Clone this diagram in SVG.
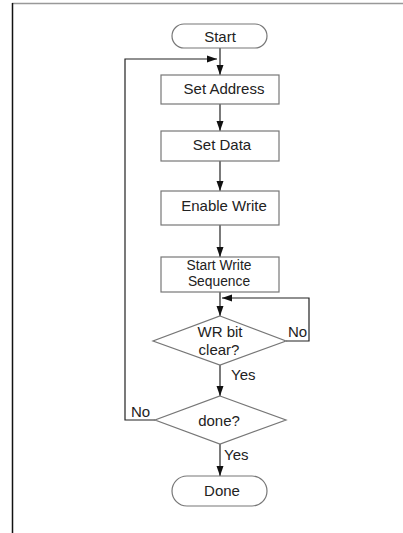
<svg xmlns="http://www.w3.org/2000/svg" width="403" height="533" viewBox="0 0 403 533">
<defs>
<marker id="ah" viewBox="0 0 10 10" refX="10" refY="5" markerWidth="10" markerHeight="10" markerUnits="userSpaceOnUse" orient="auto">
<path d="M0,1.5 L10,5 L0,8.5 Z" fill="#111"/>
</marker>
<style>
.shape{fill:#fff;stroke:#777;stroke-width:1.2}
.conn{fill:none;stroke:#222;stroke-width:1.2}
text{font-family:"Liberation Sans",Arial,sans-serif;font-size:15px;fill:#222}
.c{text-anchor:middle}
.s{font-size:13.8px}
</style>
</defs>
<rect width="403" height="533" fill="#fff"/>
<line x1="12" y1="3.5" x2="403" y2="3.5" stroke="#999" stroke-width="1.5"/>
<line x1="12.5" y1="3" x2="12.5" y2="533" stroke="#111" stroke-width="1.5"/>
<g id="connectors">
<line class="conn" x1="220" y1="48" x2="220" y2="75" marker-end="url(#ah)"/>
<polyline class="conn" points="155,420 125,420 125,59 217,59" marker-end="url(#ah)"/>
<line class="conn" x1="220" y1="104" x2="220" y2="131" marker-end="url(#ah)"/>
<line class="conn" x1="220" y1="161" x2="220" y2="191" marker-end="url(#ah)"/>
<line class="conn" x1="220" y1="225" x2="220" y2="257" marker-end="url(#ah)"/>
<line class="conn" x1="220" y1="292" x2="220" y2="316" marker-end="url(#ah)"/>
<polyline class="conn" points="286,341 309,341 309,298 222,298" marker-end="url(#ah)"/>
<line class="conn" x1="220" y1="365" x2="220" y2="396" marker-end="url(#ah)"/>
<line class="conn" x1="220" y1="444" x2="220" y2="476" marker-end="url(#ah)"/>
<text x="288" y="337">No</text>
<text x="231" y="380">Yes</text>
<text x="131" y="417">No</text>
<text x="224" y="460">Yes</text>
</g>
<g id="start">
<rect class="shape" x="172" y="24" width="95" height="24" rx="12"/>
<text class="c" x="220" y="41.5">Start</text>
</g>
<g id="set-address">
<rect class="shape" x="161" y="75" width="118" height="29"/>
<text class="c" x="224" y="93.5">Set Address</text>
</g>
<g id="set-data">
<rect class="shape" x="161" y="131" width="118" height="30"/>
<text class="c" x="222" y="149.5">Set Data</text>
</g>
<g id="enable-write">
<rect class="shape" x="161" y="191" width="118" height="34"/>
<text class="c" x="224" y="211">Enable Write</text>
</g>
<g id="start-write-sequence">
<rect class="shape" x="161" y="257" width="118" height="35"/>
<text class="c s" x="219" y="269.5">Start Write</text>
<text class="c s" x="219" y="285.5">Sequence</text>
</g>
<g id="wr-bit-clear">
<polygon class="shape" points="220,316 286,341 220,365 153,341"/>
<text class="c" x="220" y="337">WR bit</text>
<text class="c" x="219" y="354.5">clear?</text>
</g>
<g id="done-check">
<polygon class="shape" points="220,396 286,420 220,444 155,420"/>
<text class="c" x="219" y="426">done?</text>
</g>
<g id="done">
<rect class="shape" x="172" y="476" width="95" height="30" rx="15"/>
<text class="c" x="222" y="496">Done</text>
</g>
</svg>
